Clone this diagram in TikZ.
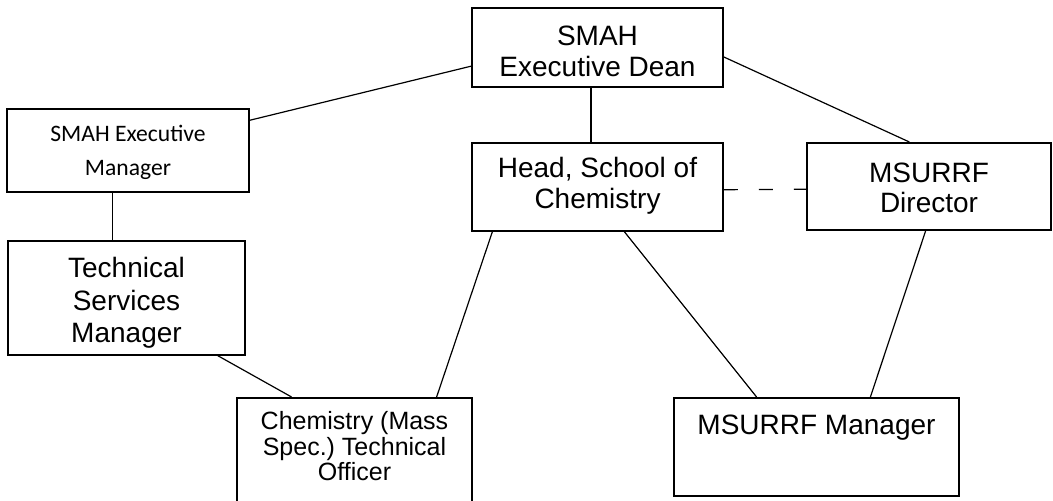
\documentclass[tikz,border=0pt]{standalone}
\usepackage{fontspec}
\setmainfont{Liberation Sans}
\newfontfamily\calibrifont{Carlito}
\usetikzlibrary{calc}
\definecolor{ink}{RGB}{0,0,0}
\tikzset{
  every picture/.style={color=ink, line width=0.6pt},
  box/.style={draw=ink, line width=0.8pt, fill=white, inner sep=0pt, align=center, anchor=north, font=\fontsize{14}{15.5}\selectfont},
  upper/.style={box, minimum width=125.5pt},
  left/.style={box, minimum width=121pt},
  lower/.style={box},
  tie/.style={line width=0.6pt},
  dashtie/.style={tie, dash pattern=on 7pt off 10.5pt},
}

\begin{document}
\begin{tikzpicture}[x=0.5pt, y=-0.5pt]
  \useasboundingbox (0,0) rectangle (1053,501);
  % top row
  \node[upper, text height=34.5pt, text depth=5pt] (dean) at (597.5,7) {SMAH\\Executive Dean};
  \node[upper, text height=32.75pt, text depth=11pt] (head) at (597.5,142.5) {Head, School of\\Chemistry};
  \node[upper, minimum width=122pt, text height=35pt, text depth=8.75pt, font=\fontsize{14}{15}\selectfont] (dir) at (929,142) {MSURRF\\Director};
  % left column
  \node[left, text height=33.5pt, text depth=8pt, font=\calibrifont\fontsize{11.8}{17}\selectfont] (mgr) at (128,108) {SMAH Executive\\Manager};
  \node[left, minimum width=118.5pt, text height=51pt, text depth=6pt, font=\fontsize{14}{16.25}\selectfont] (tsm) at (126.5,240) {Technical\\Services\\Manager};
  % bottom row, text sits near the top edge
  \node[lower, minimum width=117.5pt, text height=41.5pt, text depth=60pt, font=\fontsize{12.5}{12.75}\selectfont] (chem) at (354.5,397) {Chemistry (Mass\\Spec.)\ Technical\\Officer};
  \node[lower, minimum width=142.5pt, text height=18.5pt, text depth=30.5pt] (msm) at (816.5,397) {MSURRF Manager};

  \coordinate (deanfoot) at ($(dean.south west)!0.474!(dean.south east)$);
  \coordinate (mgrfoot) at ($(mgr.south west)!0.438!(mgr.south east)$);
  \draw[tie] ($(mgr.north east)!0.145!(mgr.south east)$) -- ($(dean.north west)!0.734!(dean.south west)$);
  \draw[tie] (deanfoot) -- (deanfoot |- head.north);
  \draw[tie] ($(dean.north east)!0.62!(dean.south east)$) -- ($(dir.north west)!0.42!(dir.north east)$);
  \draw[dashtie] ($(head.north east)!0.53!(head.south east)$) -- ($(dir.north west)!0.53!(dir.south west)$);
  \draw[tie] (mgrfoot) -- (mgrfoot |- tsm.north);
  \draw[tie] ($(tsm.south west)!0.882!(tsm.south east)$) -- ($(chem.north west)!0.234!(chem.north east)$);
  \draw[tie] ($(head.south west)!0.084!(head.south east)$) -- ($(chem.north west)!0.847!(chem.north east)$);
  \draw[tie] ($(head.south west)!0.606!(head.south east)$) -- ($(msm.north west)!0.291!(msm.north east)$);
  \draw[tie] ($(dir.south west)!0.486!(dir.south east)$) -- ($(msm.north west)!0.688!(msm.north east)$);
\end{tikzpicture}
\end{document}
